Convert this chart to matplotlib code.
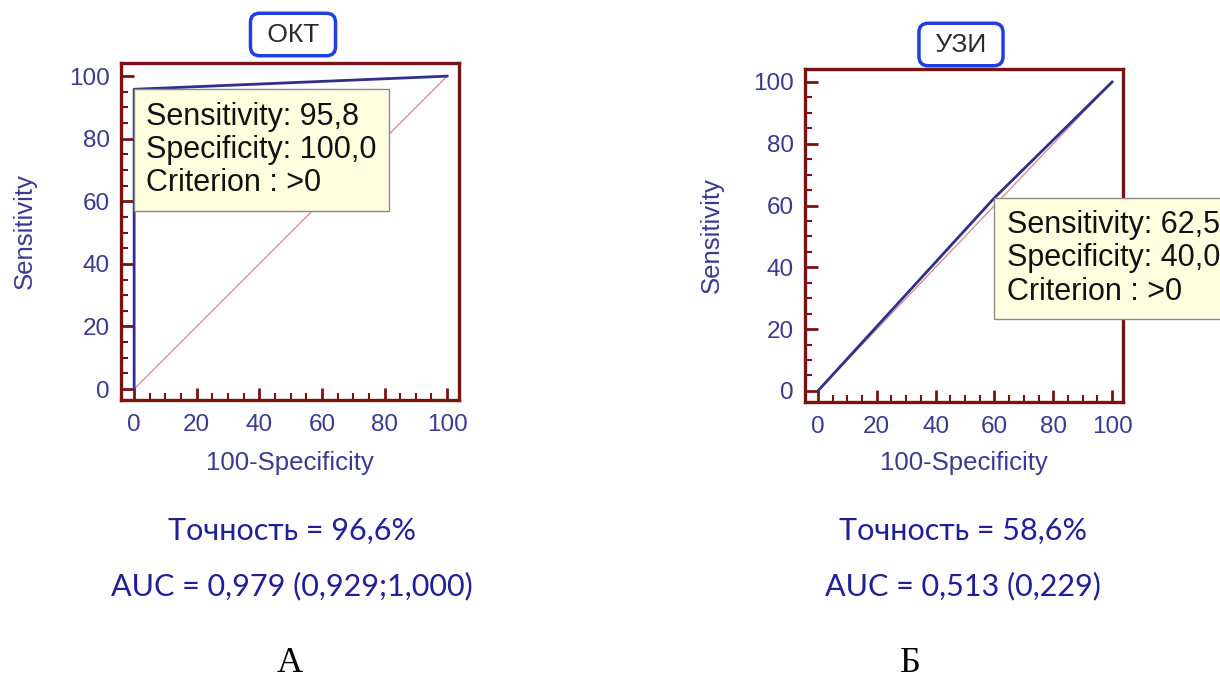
import matplotlib
matplotlib.use('Agg')
import matplotlib.pyplot as plt
from matplotlib.ticker import MultipleLocator

# ROC points (100-Specificity, Sensitivity)
okt_fpr = [0, 0, 100]
okt_tpr = [0, 95.8, 100]
uzi_fpr = [0, 60, 100]
uzi_tpr = [0, 62.5, 100]
diag = [0, 100]

titles = ['ОКТ', 'УЗИ']
cut_points = [(0, 95.8), (60, 62.5)]
cut_texts = ['Sensitivity: 95,8\nSpecificity: 100,0\nCriterion : >0',
             'Sensitivity: 62,5\nSpecificity: 40,0\nCriterion : >0']
accuracy = ['Точность = 96,6%', 'Точность = 58,6%']
auc_texts = ['AUC = 0,979 (0,929;1,000)', 'AUC = 0,513 (0,229)']
panel_letters = ['А', 'Б']

FRAME = '#7a1212'
NAVY = '#3a3a92'
LINE = '#2f2f8c'
DIAG = '#d08a8a'
SANS = ['Liberation Sans', 'DejaVu Sans']

fig = plt.figure(figsize=(12.2, 6.84), dpi=100)

axes_rects = [
    [121 / 1220, 284 / 684, 338 / 1220, 337 / 684],
    [805 / 1220, 282 / 684, 318 / 1220, 333 / 684],
]
xlims = [(-4.2, 103.8), (-4.4, 103.7)]
ylims = [(-3.5, 104.2), (-3.6, 104.2)]
curves = [(okt_fpr, okt_tpr), (uzi_fpr, uzi_tpr)]
title_pos = [(293, 34.5), (961, 44.5)]
ylabel_x = [-0.249, -0.255]
xlabel_y = [-0.152, -0.148]
text_x = [292, 963]
letter_x = [290, 910]

for i in range(2):
    ax = fig.add_axes(axes_rects[i])
    ax.plot(diag, diag, color=DIAG, lw=0.9, zorder=2)
    ax.plot(curves[i][0], curves[i][1], color=LINE, lw=2.0, zorder=3)
    ax.set_xlim(*xlims[i])
    ax.set_ylim(*ylims[i])

    for side in ax.spines.values():
        side.set_color(FRAME)
        side.set_linewidth(2.4)

    ax.xaxis.set_major_locator(MultipleLocator(20))
    ax.yaxis.set_major_locator(MultipleLocator(20))
    ax.xaxis.set_minor_locator(MultipleLocator(5))
    ax.yaxis.set_minor_locator(MultipleLocator(5))
    ax.tick_params(which='both', direction='in', color=FRAME, top=False, right=False)
    ax.tick_params(which='major', length=9, width=2.0)
    ax.tick_params(which='minor', length=5, width=1.5)
    ax.tick_params(axis='x', which='major', pad=10, labelsize=17.5, labelcolor=NAVY)
    ax.tick_params(axis='y', which='major', pad=8, labelsize=17.5, labelcolor=NAVY)
    for lab in ax.get_xticklabels() + ax.get_yticklabels():
        lab.set_family(SANS)

    ax.set_xlabel('100-Specificity', fontsize=18.5, color=NAVY, family=SANS)
    ax.set_ylabel('Sensitivity', fontsize=18.5, color=NAVY, family=SANS)
    ax.xaxis.set_label_coords(0.5, xlabel_y[i])
    ax.yaxis.set_label_coords(ylabel_x[i], 0.5)

    # tooltip box anchored by its top-left corner at the cut-off point
    pad = 0.4
    off = pad * 22
    ax.annotate(cut_texts[i], xy=cut_points[i], xytext=(off, -off),
                textcoords='offset points', ha='left', va='top',
                fontsize=22, family=SANS, color='#111111', linespacing=1.15,
                annotation_clip=False, zorder=5,
                bbox=dict(boxstyle='square,pad=%s' % pad, fc='#ffffe0',
                          ec='#8a8a8a', lw=1.0))

    fig.text(title_pos[i][0] / 1220, 1 - title_pos[i][1] / 684, ' ' + titles[i] + ' ',
             ha='center', va='center', fontsize=19, family=SANS, color='#2a2a2a',
             bbox=dict(boxstyle='round,pad=0.35,rounding_size=0.35', fc='white',
                       ec='#1f3fe0', lw=2.5))

    fig.text(text_x[i] / 1220, 1 - 531 / 684, accuracy[i], ha='center', va='center',
             fontsize=22, family=['Lato', 'DejaVu Sans'], color='#1f1f9a')
    fig.text(text_x[i] / 1220, 1 - 586 / 684, auc_texts[i], ha='center', va='center',
             fontsize=22, family=['Lato', 'DejaVu Sans'], color='#1f1f9a')
    fig.text(letter_x[i] / 1220, 1 - 664 / 684, panel_letters[i], ha='center', va='center',
             fontsize=26, family=['Liberation Serif', 'DejaVu Serif'], color='black')

fig.savefig('out.png', dpi=100)
